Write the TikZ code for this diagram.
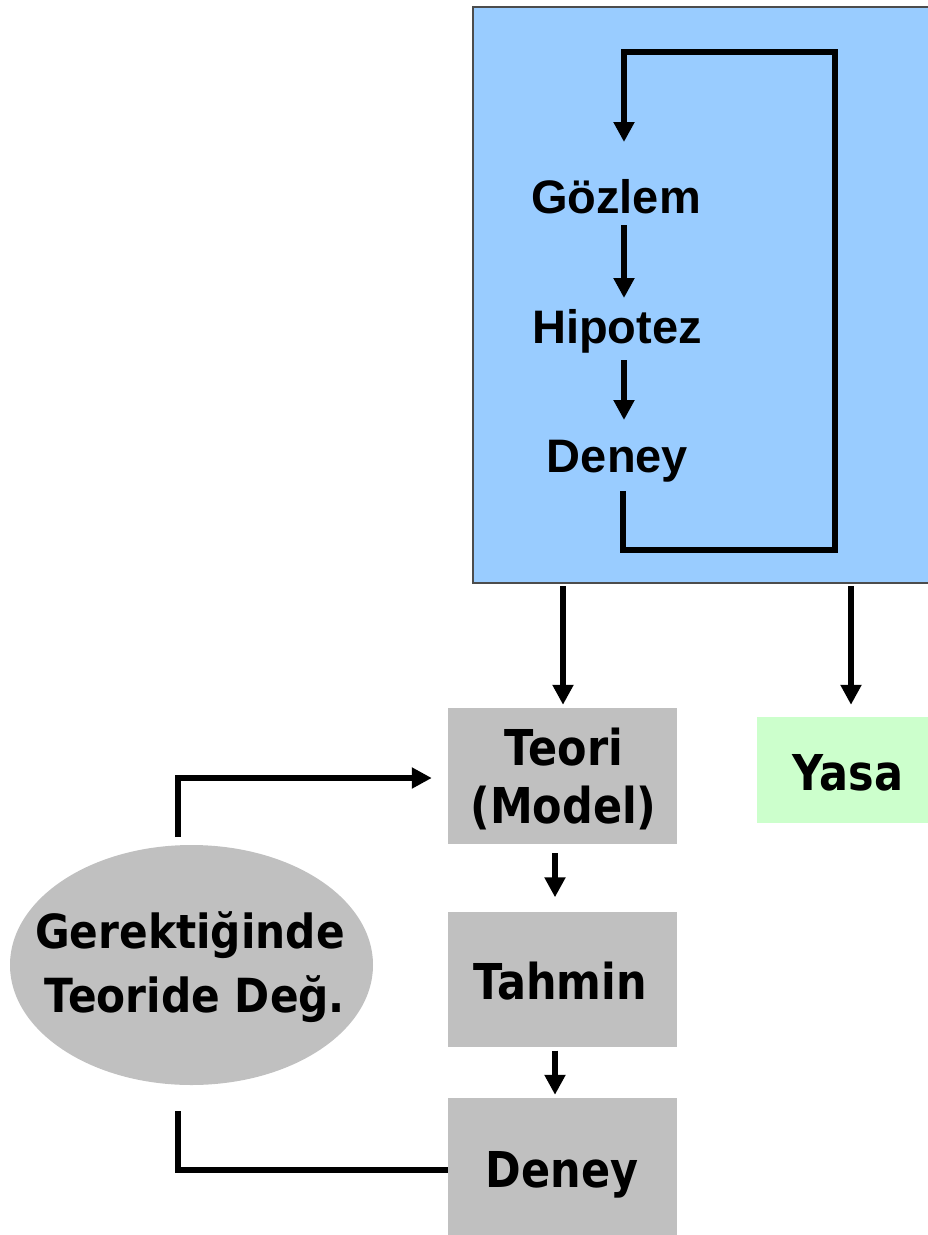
\documentclass[tikz,border=0pt]{standalone}
\usepackage{fontspec}
\setmainfont{Liberation Sans}
\newfontfamily\verd[FakeStretch=0.87]{DejaVu Sans}
\newfontfamily\verdE[FakeStretch=0.9]{DejaVu Sans}
\usetikzlibrary{arrows.meta,shapes.geometric}
\definecolor{skyblue}{HTML}{99CCFF}
\definecolor{boxgray}{HTML}{C0C0C0}
\definecolor{palegreen}{HTML}{CCFFCC}
\begin{document}
\begin{tikzpicture}[x=1pt,y=-1pt,
  upper/.style={font=\fontsize{47}{54}\selectfont\bfseries, inner sep=0pt, anchor=base},
  lower/.style={font=\verd\bfseries\fontsize{49.4}{58}\selectfont, inner sep=0pt, anchor=base},
  elltext/.style={font=\verdE\bfseries\fontsize{47}{58}\selectfont, inner sep=0pt, anchor=base},
  graybox/.style={fill=boxgray, draw=none, minimum width=229pt, inner sep=0pt},
  conn/.style={line width=6pt, draw=black, line join=miter},
  tip/.style={conn, -{Triangle[length=20pt,width=20pt]}}
]
\useasboundingbox (0,0) rectangle (928,1235);
% observation box
\node (obs) [anchor=north west, draw=black!70, line width=2pt, fill=skyblue,
  minimum width=470pt, minimum height=576pt, inner sep=0pt] at (472,6) {};
% texts in blue box
\node (goz) [upper] at (616,213) {Gözlem};
\node (hip) [upper] at (617,343) {Hipotez};
\node (den1) [upper] at (617.5,472) {Deney};
% loop coordinates
\coordinate (lstart) at (623,491);
\coordinate (lright) at (835,550);
\coordinate (ltop) at (624,52);
\coordinate (ltip) at (624,142);
\coordinate (g1) at (624,225);
\coordinate (g2) at (624,298);
\coordinate (h1) at (624,360);
\coordinate (h2) at (624,420);
\draw[tip] (lstart) |- (lright) |- (ltop) -- (ltip);
\draw[tip] (g1) -- (g2);
\draw[tip] (h1) -- (h2);
% lower boxes
\node (teori) [graybox, minimum height=136pt] at (562.5,776) {};
\node [lower] at (564,765) {Teori};
\node [lower] at (563.5,823) {(Model)};
\node (tah) [graybox, minimum height=135pt] at (562.5,979) {};
\node [lower] at (560,999) {Tahmin};
\node (den2) [graybox, minimum height=137pt] at (562.5,1166.5) {};
\node [lower] at (562,1187) {Deney};
\node (yasa) [fill=palegreen, minimum width=173pt, minimum height=106pt, inner sep=0pt] at (843.5,770) {};
\node [lower] at (848,790) {Yasa};
\node (ell) [ellipse, fill=boxgray, draw=none, minimum width=363pt, minimum height=240pt, inner sep=0pt] at (191.5,965) {};
\node [elltext] at (190,948) {Gerektiğinde};
\node [elltext] at (195,1012) {Teoride Değ.};
% x guides
\coordinate (xa) at (563,0);
\coordinate (xb) at (851,0);
\coordinate (xs) at (555,0);
\coordinate (e1) at (178,837);
\coordinate (e2) at (178,1111);
\coordinate (ey) at (0,778);
\coordinate (dy) at (0,1170);
\draw[tip, shorten <=2pt, shorten >=3pt] (obs.south -| xa) -- (teori.north -| xa);
\draw[tip, shorten <=2pt, shorten >=12pt] (obs.south -| xb) -- (yasa.north -| xb);
\draw[tip, shorten <=9pt, shorten >=14pt] (teori.south -| xs) -- (tah.north -| xs);
\draw[tip, shorten <=4pt, shorten >=3pt] (tah.south -| xs) -- (den2.north -| xs);
\draw[tip, shorten >=16pt] (e1) |- (teori.west |- ey);
\draw[conn] (den2.west |- dy) -| (e2);
\end{tikzpicture}
\end{document}
